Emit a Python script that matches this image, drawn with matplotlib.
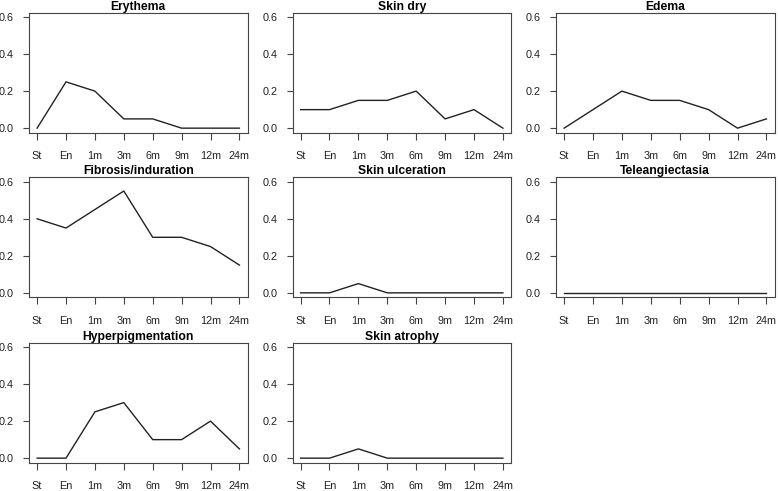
import matplotlib
matplotlib.use("Agg")
import matplotlib.pyplot as plt

plt.rcParams['font.family'] = ['Liberation Sans', 'DejaVu Sans']

timepoints = ["St", "En", "1m", "3m", "6m", "9m", "12m", "24m"]
titles = ["Erythema", "Skin dry", "Edema", "Fibrosis/induration",
          "Skin ulceration", "Teleangiectasia", "Hyperpigmentation", "Skin atrophy"]
erythema = [0.0, 0.25, 0.20, 0.05, 0.05, 0.0, 0.0, 0.0]
skin_dry = [0.10, 0.10, 0.15, 0.15, 0.20, 0.05, 0.10, 0.0]
edema = [0.0, 0.10, 0.20, 0.15, 0.15, 0.10, 0.0, 0.05]
fibrosis = [0.40, 0.35, 0.45, 0.55, 0.30, 0.30, 0.25, 0.15]
skin_ulceration = [0.0, 0.0, 0.05, 0.0, 0.0, 0.0, 0.0, 0.0]
teleangiectasia = [0.0, 0.0, 0.0, 0.0, 0.0, 0.0, 0.0, 0.0]
hyperpigmentation = [0.0, 0.0, 0.25, 0.30, 0.10, 0.10, 0.20, 0.05]
skin_atrophy = [0.0, 0.0, 0.05, 0.0, 0.0, 0.0, 0.0, 0.0]
yticks = [0.0, 0.2, 0.4, 0.6]

series = [erythema, skin_dry, edema, fibrosis, skin_ulceration,
          teleangiectasia, hyperpigmentation, skin_atrophy]

W, H = 778, 491
fig = plt.figure(figsize=(W / 100, H / 100), dpi=100)

lefts = [29, 292.5, 556]
tops = [12.6, 177.3, 342.6]
bw, bh = 218.5, 120

x = list(range(1, len(timepoints) + 1))
for i, (title, vals) in enumerate(zip(titles, series)):
    r, c = divmod(i, 3)
    ax = fig.add_axes([lefts[c] / W, 1 - (tops[r] + bh) / H, bw / W, bh / H])
    ax.plot(x, vals, color='#222222', lw=1.0)
    ax.set_xlim(0.72, 8.28)
    ax.set_ylim(-0.024, 0.624)
    ax.set_xticks(x)
    ax.set_xticklabels(timepoints)
    ax.set_yticks(yticks)
    ax.set_yticklabels([f"{v:.1f}" for v in yticks])
    ax.tick_params(axis='x', length=5, width=0.8, color='#444444', pad=8.5,
                   labelsize=7.8, labelcolor='#222222')
    ax.tick_params(axis='y', length=4, width=0.8, color='#444444', pad=7,
                   labelsize=7.8, labelcolor='#222222')
    for s in ax.spines.values():
        s.set_color('#444444')
        s.set_linewidth(0.8)
    ax.set_title(title, fontsize=8.7, fontweight='bold', pad=2)

fig.savefig("out.png", dpi=100)
